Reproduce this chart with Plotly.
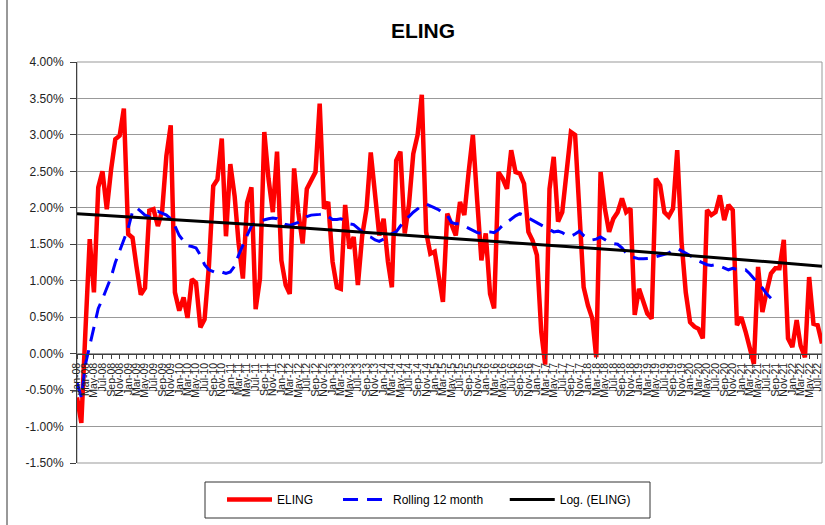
import pandas as pd
import plotly.graph_objects as go

START = "2008-01-01"
ELING = [-0.6, -0.95, 0.3, 1.57, 0.84, 2.28, 2.5, 1.98, 2.53, 2.94,
         2.99, 3.36, 1.64, 1.59, 1.2, 0.81, 0.9, 1.96, 1.98, 1.75,
         1.96, 2.71, 3.13, 0.84, 0.59, 0.77, 0.49, 1.02, 0.97, 0.36,
         0.47, 1.2, 2.3, 2.39, 2.95, 1.61, 2.6, 2.16, 1.52, 1.03,
         2.07, 2.28, 0.61, 1.03, 3.04, 2.4, 1.94, 2.77, 1.28, 0.94,
         0.82, 2.54, 1.94, 1.51, 2.26, 2.36, 2.49, 3.43, 1.99, 2.08,
         1.26, 0.91, 0.89, 2.04, 1.44, 1.6, 0.94, 1.62, 1.99, 2.76,
         2.13, 1.62, 1.85, 1.26, 0.91, 2.65, 2.77, 1.65, 2.04, 2.74,
         3.0, 3.55, 1.67, 1.37, 1.4, 1.03, 0.71, 1.92, 1.76, 1.62,
         2.08, 1.9, 2.49, 3.0, 2.1, 1.28, 1.65, 0.82, 0.62, 2.49,
         2.4, 2.26, 2.79, 2.49, 2.47, 2.33, 1.67, 1.55, 1.35, 0.3,
         -0.15, 2.26, 2.7, 1.81, 1.94, 2.54, 3.04, 3.0, 1.9, 0.91,
         0.66, 0.48, -0.05, 2.49, 2.0, 1.67, 1.85, 1.94, 2.13, 1.94,
         1.99, 0.53, 0.89, 0.7, 0.55, 0.48, 2.4, 2.31, 1.94, 1.88,
         1.99, 2.79, 1.53, 0.84, 0.43, 0.37, 0.34, 0.21, 1.97, 1.9,
         1.94, 2.17, 1.83, 2.04, 1.97, 0.39, 0.5, 0.3, 0.07, -0.14,
         1.19, 0.57, 0.85, 1.1, 1.17, 1.17, 1.56, 0.21, 0.09, 0.46,
         0.11, -0.05, 1.05, 0.41, 0.39, 0.14]

ROLLING = [-0.4, -0.6, -0.15, 0.1, 0.33, 0.62, 0.75, 0.9, 1.05, 1.25,
           1.4, 1.55, 1.72, 1.95, 2.0, 1.95, 1.9, 1.88, 1.93, 1.95,
           1.92, 1.9, 1.85, 1.75, 1.62, 1.55, 1.48, 1.47, 1.45, 1.35,
           1.22, 1.15, 1.12, 1.1, 1.12, 1.1, 1.12, 1.2, 1.35, 1.5,
           1.62, 1.75, 1.8, 1.82, 1.84, 1.85, 1.86, 1.85, 1.8, 1.77,
           1.76, 1.78, 1.8, 1.84, 1.88, 1.9, 1.9, 1.91, 1.92, 1.88,
           1.84, 1.84, 1.85, 1.82, 1.78, 1.77, 1.72, 1.66, 1.62, 1.6,
           1.56, 1.54, 1.57, 1.62, 1.64, 1.67, 1.75, 1.82, 1.88, 1.94,
           1.99, 2.03, 2.05, 2.03, 2.0, 1.97, 1.93, 1.9, 1.8, 1.78,
           1.78, 1.75, 1.72, 1.68, 1.66, 1.65, 1.67, 1.67, 1.66, 1.7,
           1.76, 1.8, 1.85, 1.89, 1.92, 1.9, 1.86, 1.83, 1.8, 1.76,
           1.74, 1.7, 1.67, 1.68, 1.66, 1.62, 1.61, 1.64, 1.68, 1.62,
           1.58, 1.56, 1.57, 1.6, 1.56, 1.53, 1.51, 1.5, 1.45, 1.38,
           1.33, 1.31, 1.3, 1.3, 1.3, 1.31, 1.33, 1.35, 1.36, 1.38,
           1.42, 1.44, 1.41, 1.38, 1.35, 1.31, 1.27, 1.24, 1.22, 1.21,
           1.22, 1.2, 1.18, 1.15, 1.17, 1.15, 1.14, 1.15, 1.1, 1.03,
           0.97, 0.9, 0.82, 0.76]

TREND_IDX = [0, 44, 88, 132, 175]
TREND_VALUES = [1.92, 1.76, 1.58, 1.40, 1.20]

Y_TICKS = [-1.5, -1.0, -0.5, 0.0, 0.5, 1.0, 1.5, 2.0, 2.5, 3.0, 3.5, 4.0]

NAMES = ["ELING", "Rolling 12 month", "Log. (ELING)"]

dates = pd.date_range(START, periods=len(ELING), freq="MS")
FONT = "Liberation Sans, Arial, sans-serif"
NB = "\u00a0"

# plot area in pixels: x 77..822, y 62..463
PL, PR, PT, PB = 77, 822, 62, 463
W, H = PR - PL, PB - PT


def px_x(x):
    return (x - PL) / W


def px_y(y):
    return (PB - y) / H


fig = go.Figure()
fig.add_trace(go.Scatter(x=dates, y=ELING, mode="lines", name=NAMES[0] + NB * 6,
                         line=dict(color="#ff0000", width=4.5)))
fig.add_trace(go.Scatter(x=dates[:len(ROLLING)], y=ROLLING, mode="lines",
                         name=NAMES[1] + NB * 5,
                         line=dict(color="#0000ff", width=3, dash="15px,9px")))
fig.add_trace(go.Scatter(x=[dates[i] for i in TREND_IDX], y=TREND_VALUES,
                         mode="lines", name=NAMES[2],
                         line=dict(color="#000000", width=3)))

fig.update_layout(
    width=825, height=525,
    margin=dict(l=PL, r=825 - PR, t=PT, b=525 - PB, autoexpand=False),
    paper_bgcolor="white", plot_bgcolor="white",
    font=dict(family=FONT, color="black", size=12),
    title=dict(text="<b>ELING</b>", x=423 / 825, xanchor="center",
               y=1 - 31 / 525, yanchor="middle",
               font=dict(size=21, family=FONT, color="black")),
    showlegend=True,
    legend=dict(orientation="h", xref="container", yref="container",
                x=222 / 825, xanchor="left",
                y=1 - 485 / 525, yanchor="top",
                borderwidth=0,
                font=dict(size=12, family=FONT), itemwidth=45,
                bgcolor="rgba(0,0,0,0)", tracegroupgap=0),
    xaxis=dict(type="date", range=[dates[0], dates[-1]],
               anchor="free", position=1.5 / 5.5,
               showline=True, linecolor="#404040", linewidth=1,
               ticks="outside", ticklen=4, tickcolor="#404040",
               tick0=START, dtick="M2", tickformat="%b-%y",
               tickangle=-90, tickfont=dict(size=10.5, family=FONT, color="#222"),
               showgrid=False, zeroline=False, automargin=False),
    yaxis=dict(range=[-1.5, 4.0], tickvals=Y_TICKS,
               ticktext=[f"{v:.2f}%" for v in Y_TICKS],
               showgrid=True, gridcolor="#999999", gridwidth=1.3,
               showline=True, linecolor="#404040", linewidth=1,
               ticks="outside", ticklen=6, tickcolor="#404040",
               ticklabelstandoff=4,
               zeroline=False, automargin=False,
               tickfont=dict(size=12, family=FONT, color="#222")),
    shapes=[
        dict(type="rect", xref="paper", yref="paper", x0=0, x1=1, y0=0, y1=1,
             line=dict(color="#999999", width=1), layer="below"),
        dict(type="line", xref="paper", yref="paper",
             x0=px_x(7), x1=px_x(7), y0=px_y(525), y1=px_y(0),
             line=dict(color="#333333", width=1)),
        dict(type="rect", xref="paper", yref="paper",
             x0=px_x(205), x1=px_x(650), y0=px_y(518), y1=px_y(482),
             line=dict(color="#333333", width=1), fillcolor="rgba(0,0,0,0)"),
    ],
)

fig.write_html("out.html", config={"displayModeBar": False},
               post_script="document.body.style.margin='0';")
